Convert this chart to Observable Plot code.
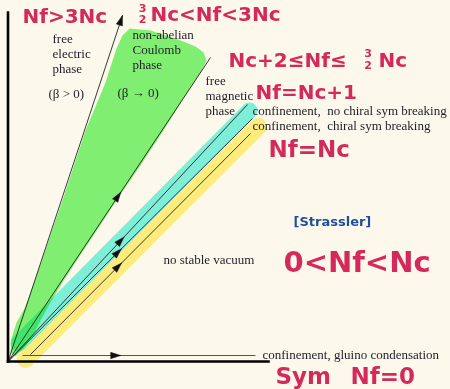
<!DOCTYPE html>
<html><head><meta charset="utf-8">
<script src="https://cdn.jsdelivr.net/npm/d3@7"></script>
<script src="https://cdn.jsdelivr.net/npm/@observablehq/plot@0.6"></script>
<style>html,body{margin:0;padding:0;background:#fdf8ec;overflow:hidden}</style>
</head><body><div id="chart"></div>
<script>
// Diagram coordinates: x = Nc (horizontal), y = Nf (vertical), arbitrary units
const axisLines = [
  {name: "Nf axis", x1: 0, y1: 0, x2: 0, y2: 34.9},
  {name: "Nc axis", x1: 0, y1: 0, x2: 26.05, y2: 0}
];
// RG flow lines; t = where the arrowhead sits along the line
const flowLines = [
  {name: "Nf=3Nc",   x1: 0,    y1: 0,   x2: 11.45, y2: 34.6, t: 1.0},
  {name: "Nf=3/2Nc", x1: 0,    y1: 0,   x2: 20.25, y2: 30.4, t: 0.543},
  {name: "Nf=Nc+1",  x1: 0,    y1: 0,   x2: 23.95, y2: 25.7, t: 0.47},
  {name: "Nf=Nc",    x1: 0,    y1: 0,   x2: 24.45, y2: 24.3, t: 0.449},
  {name: "Nf<Nc",    x1: 2.25, y1: 0.7, x2: 24.25, y2: 22.8, t: 0.398}
];
const zeroLine = [
  {name: "Nf=0", x1: 1.45, y1: 0.6, x2: 24.75, y2: 0.6, t: 0.40}
];
// hand-drawn highlighter strokes
const greenPatch = [
  [0.25,0.9],[0.35,2.3],[0.85,3.9],[1.65,5.3],[2.25,6.9],[3.45,10.3],[5.45,16.1],
  [7.75,23.1],[9.75,27.9],[10.85,31.3],[11.45,32.6],[12.15,33.3],[14.25,33.1],
  [16.75,32.3],[18.75,31.5],[19.55,30.9],[19.85,30.1],[19.25,28.9],[17.75,26.6],
  [15.55,23.1],[13.25,19.6],[11.05,16.4],[8.75,12.9],[6.75,9.9],[5.45,7.9],
  [4.25,5.9],[3.25,4.1],[2.55,2.7],[1.65,1.4],[0.75,0.5]
];
const cyanStroke = [[1.05, 1.8], [24.15, 25.1]];
const yellowStroke = [[1.75, 0.2], [25.05, 23.5]];

// printed labels
const printedLabels = [
  {text: "free", x: 4.45, y: 31.9},
  {text: "electric", x: 4.45, y: 30.4},
  {text: "phase", x: 4.45, y: 28.9},
  {text: "(β > 0)", x: 4.05, y: 26.4},
  {text: "non-abelian", x: 12.45, y: 32.3},
  {text: "Coulomb", x: 12.45, y: 30.75},
  {text: "phase", x: 12.45, y: 29.25},
  {text: "(β \u2192 0)", x: 10.95, y: 26.5},
  {text: "free", x: 19.75, y: 27.7},
  {text: "magnetic", x: 19.75, y: 26.2},
  {text: "phase", x: 19.75, y: 24.7},
  {text: "confinement,  no chiral sym breaking", x: 24.45, y: 24.7},
  {text: "confinement,  chiral sym breaking", x: 24.45, y: 23.2},
  {text: "no stable vacuum", x: 15.55, y: 9.8},
  {text: "confinement, gluino condensation", x: 25.45, y: 0.3}
];
// handwritten annotations
const handMedium = [
  {text: "Nf>3Nc", x: 1.45, y: 34.5},
  {text: "Nc<Nf<3Nc", x: 14.25, y: 34.65},
  {text: "Nc+2≤Nf≤", x: 22.05, y: 30.1},
  {text: "Nc", x: 37.05, y: 30.1},
  {text: "Nf=Nc+1", x: 24.75, y: 26.9}
];
const handFractions = [
  {text: "3\n2", x: 13.45, y: 34.75},
  {text: "3\n2", x: 36.0, y: 30.2}
];
const handLarge = [
  {text: "Nf=Nc", x: 26.05, y: 21.2},
  {text: "Sym", x: 26.75, y: -1.5},
  {text: "Nf=0", x: 34.25, y: -1.5}
];
const handHuge = [{text: "0<Nf<Nc", x: 27.55, y: 9.9}];
const citation = [{text: "[Strassler]", x: 28.55, y: 14.0}];

// arrowheads built from the flow lines
function arrowHeads(lines) {
  const out = [];
  lines.forEach((l) => {
    const dx = l.x2 - l.x1, dy = l.y2 - l.y1, len = Math.hypot(dx, dy);
    const ux = dx / len, uy = dy / len, nx = -uy, ny = ux;
    const px = l.x1 + l.t * dx, py = l.y1 + l.t * dy;
    const tipx = l.t >= 1 ? px : px + ux * 0.5, tipy = l.t >= 1 ? py : py + uy * 0.5;
    const bx = tipx - ux * 1.0, by = tipy - uy * 1.0, w = 0.32;
    out.push({id: l.name, x: tipx, y: tipy});
    out.push({id: l.name, x: bx + nx * w, y: by + ny * w});
    out.push({id: l.name, x: bx - nx * w, y: by - ny * w});
    out.push({id: l.name, x: tipx, y: tipy});
  });
  return out;
}

const red = "#d42a5b";
const hand = {fontFamily: "DejaVu Sans", fontWeight: "bold", fill: red, textAnchor: "start"};
const serif = {fontFamily: "Liberation Serif", fontSize: 13, fill: "#1e1e28", textAnchor: "start", lineAnchor: "bottom"};

const chart = Plot.plot({
  width: 450, height: 389,
  marginLeft: 0, marginRight: 0, marginTop: 0, marginBottom: 0,
  x: {domain: [-0.75, 44.25], axis: null},
  y: {domain: [-2.8, 36.1], axis: null},
  style: {background: "#fdf8ec", overflow: "visible"},
  marks: [
    Plot.line(greenPatch, {x: d => d[0], y: d => d[1], fill: "#80f57a", stroke: "none", mixBlendMode: "multiply"}),
    Plot.line(yellowStroke, {x: d => d[0], y: d => d[1], stroke: "#fdf385", strokeWidth: 17, strokeLinecap: "round", mixBlendMode: "multiply"}),
    Plot.line(cyanStroke, {x: d => d[0], y: d => d[1], stroke: "#80f5ea", strokeWidth: 16, strokeLinecap: "round", mixBlendMode: "multiply"}),
    Plot.link(flowLines, {x1: "x1", y1: "y1", x2: "x2", y2: "y2", stroke: "#222", strokeWidth: 0.9}),
    Plot.link(zeroLine, {x1: "x1", y1: "y1", x2: "x2", y2: "y2", stroke: "#555", strokeWidth: 1}),
    Plot.line(arrowHeads(flowLines.concat(zeroLine)), {x: "x", y: "y", z: "id", fill: "#111", stroke: "#111", strokeWidth: 0.5}),
    Plot.link(axisLines, {x1: "x1", y1: "y1", x2: "x2", y2: "y2", stroke: "#000", strokeWidth: 2.6, strokeLinecap: "square"}),
    Plot.text(printedLabels, {x: "x", y: "y", text: "text", ...serif}),
    Plot.text(handMedium, {x: "x", y: "y", text: "text", fontSize: 20, ...hand}),
    Plot.text(handFractions, {x: "x", y: "y", text: "text", fontSize: 11, lineHeight: 1.05, ...hand, textAnchor: "middle"}),
    Plot.text(handLarge, {x: "x", y: "y", text: "text", fontSize: 23, ...hand}),
    Plot.text(handHuge, {x: "x", y: "y", text: "text", fontSize: 29, ...hand}),
    Plot.text(citation, {x: "x", y: "y", text: "text", fontSize: 13, ...hand, fill: "#1f4f9c"})
  ]
});
document.getElementById("chart").appendChild(chart);
</script>
</body></html>
